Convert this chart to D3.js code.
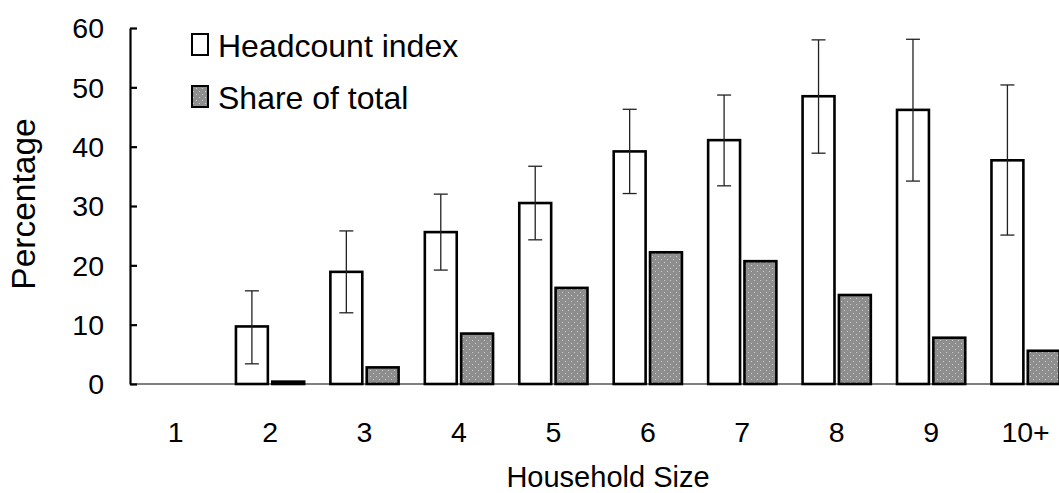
<!DOCTYPE html>
<html>
<head>
<meta charset="utf-8">
<script src="https://cdn.jsdelivr.net/npm/d3@7"></script>
<style>
  body { margin: 0; background: #fff; }
  text { font-family: "Liberation Sans", Arial, sans-serif; fill: #000; }
</style>
</head>
<body>
<div class="chart"></div>
<script>
// data
const sizes = ['1', '2', '3', '4', '5', '6', '7', '8', '9', '10+'];
const headcount = [0, 9.7, 18.9, 25.6, 30.5, 39.2, 41.1, 48.5, 46.2, 37.7];
const headLow  = [0, 3.4, 12.0, 19.2, 24.3, 32.1, 33.4, 38.9, 34.2, 25.1];
const headHigh = [0, 15.7, 25.8, 32.0, 36.7, 46.3, 48.7, 58.0, 58.1, 50.4];
const share = [0, 0.4, 2.8, 8.5, 16.2, 22.2, 20.7, 15.0, 7.8, 5.6];
const yTicks = [0, 10, 20, 30, 40, 50, 60];
const seriesNames = ['Headcount index', 'Share of total'];

const W = 1059, H = 493;
const svg = d3.select('.chart').append('svg')
    .attr('width', W).attr('height', H);

const defs = svg.append('defs');
const pat = defs.append('pattern')
    .attr('id', 'dots')
    .attr('patternUnits', 'userSpaceOnUse')
    .attr('width', 6).attr('height', 6);
pat.append('rect').attr('width', 6).attr('height', 6).attr('fill', '#8e8e8e');
pat.append('rect').attr('x', 1).attr('y', 1).attr('width', 1).attr('height', 1).attr('fill', '#cfcfcf');
pat.append('rect').attr('x', 4).attr('y', 4).attr('width', 1).attr('height', 1).attr('fill', '#cfcfcf');

const y = d3.scaleLinear().domain([0, 60]).range([384, 28]);
const x = d3.scaleBand().domain(sizes).range([128.4, 1072.8])
    .paddingInner(0.25).paddingOuter(0.125);
const xs = d3.scaleBand().domain(seriesNames).range([0, x.bandwidth()]).paddingInner(0.05);

const rows = sizes.map((s, i) => ({
    size: s, head: headcount[i], lo: headLow[i], hi: headHigh[i], share: share[i]
}));

const sw = 2.6;
const g = svg.append('g');

// headcount bars
g.selectAll('rect.head')
    .data(rows.filter(d => d.head > 0))
    .enter().append('rect')
    .attr('class', 'head')
    .attr('x', d => x(d.size) + xs(seriesNames[0]) + sw / 2)
    .attr('width', xs.bandwidth() - sw)
    .attr('y', d => y(d.head))
    .attr('height', d => y(0) - y(d.head))
    .attr('fill', '#fff')
    .attr('stroke', '#000')
    .attr('stroke-width', sw);

// share bars
g.selectAll('rect.share')
    .data(rows.filter(d => d.share > 0))
    .enter().append('rect')
    .attr('class', 'share')
    .attr('x', d => x(d.size) + xs(seriesNames[1]) + sw / 2)
    .attr('width', xs.bandwidth() - sw)
    .attr('y', d => y(d.share))
    .attr('height', d => y(0) - y(d.share))
    .attr('fill', 'url(#dots)')
    .attr('stroke', '#000')
    .attr('stroke-width', sw);

// error bars
const eb = g.selectAll('g.err')
    .data(rows.filter(d => d.head > 0))
    .enter().append('g')
    .attr('class', 'err')
    .attr('stroke', '#222')
    .attr('stroke-width', 1.3);
const cx = d => x(d.size) + xs(seriesNames[0]) + xs.bandwidth() / 2;
eb.append('line')
    .attr('x1', cx).attr('x2', cx)
    .attr('y1', d => y(d.lo)).attr('y2', d => y(d.hi));
eb.append('line')
    .attr('x1', d => cx(d) - 7).attr('x2', d => cx(d) + 7)
    .attr('y1', d => y(d.hi)).attr('y2', d => y(d.hi));
eb.append('line')
    .attr('x1', d => cx(d) - 7).attr('x2', d => cx(d) + 7)
    .attr('y1', d => y(d.lo)).attr('y2', d => y(d.lo));

// x axis line
svg.append('line')
    .attr('x1', 130).attr('x2', W)
    .attr('y1', y(0)).attr('y2', y(0))
    .attr('stroke', '#000').attr('stroke-width', 1.2);

// y axis
const yAxis = svg.append('g')
    .attr('transform', 'translate(130,0)')
    .call(d3.axisRight(y).tickValues(yTicks).tickSize(7).tickSizeOuter(0).tickFormat(''));
yAxis.select('.domain').attr('stroke', '#000').attr('stroke-width', 2.2);
yAxis.selectAll('.tick line').attr('stroke', '#000').attr('stroke-width', 2.2);

svg.selectAll('text.ytick')
    .data(yTicks)
    .enter().append('text')
    .attr('class', 'ytick')
    .attr('x', 104)
    .attr('y', d => y(d))
    .attr('dy', '0.36em')
    .attr('text-anchor', 'end')
    .attr('font-size', 28.5)
    .text(d => d);

svg.selectAll('text.xtick')
    .data(sizes)
    .enter().append('text')
    .attr('class', 'xtick')
    .attr('x', d => x(d) + x.bandwidth() / 2)
    .attr('y', 442)
    .attr('text-anchor', 'middle')
    .attr('font-size', 28.5)
    .text(d => d);

svg.append('text')
    .attr('x', 608).attr('y', 487)
    .attr('text-anchor', 'middle')
    .attr('font-size', 29)
    .text('Household Size');

svg.append('text')
    .attr('transform', 'translate(35,204) rotate(-90)')
    .attr('text-anchor', 'middle')
    .attr('font-size', 33.5)
    .text('Percentage');

// legend
const legend = svg.append('g');
const legFills = ['#fff', 'url(#dots)'];
seriesNames.forEach((name, i) => {
    const ly = 34 + i * 52;
    legend.append('rect')
        .attr('x', 192).attr('y', ly)
        .attr('width', 16).attr('height', 21)
        .attr('fill', legFills[i])
        .attr('stroke', '#000').attr('stroke-width', 2);
    legend.append('text')
        .attr('x', 218).attr('y', ly + 22.5)
        .attr('font-size', 32)
        .text(name);
});
</script>
</body>
</html>
